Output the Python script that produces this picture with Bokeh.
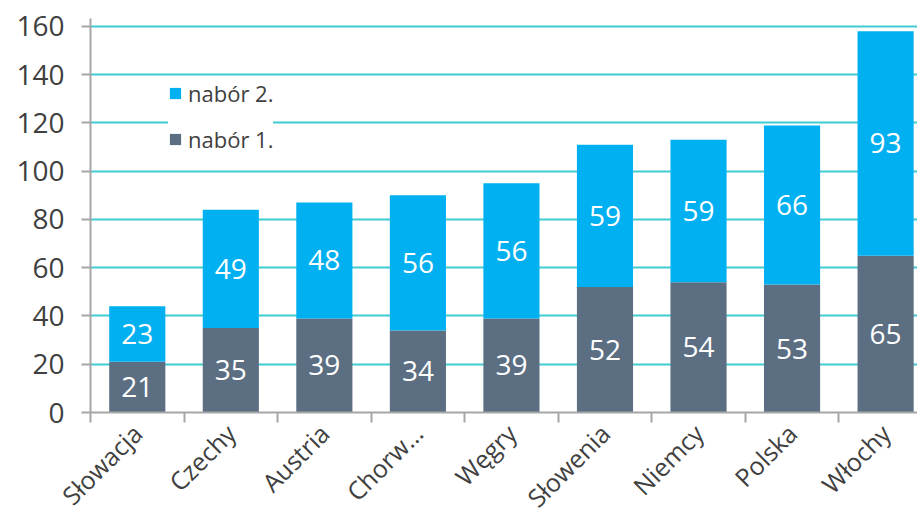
import numpy as np
from bokeh.plotting import figure
from bokeh.models import ColumnDataSource, Range1d, FixedTicker, Legend, LegendItem
from bokeh.embed import file_html
from bokeh.resources import INLINE
from bokeh.core.properties import value

categories = ["Słowacja", "Czechy", "Austria", "Chorw…", "Węgry",
              "Słowenia", "Niemcy", "Polska", "Włochy"]
nabor1 = [21, 35, 39, 34, 39, 52, 54, 53, 65]
nabor2 = [23, 49, 48, 56, 56, 59, 59, 66, 93]
y_ticks = [0, 20, 40, 60, 80, 100, 120, 140, 160]

FONT = "Open Sans"
TXT = "#404040"
AX = "#A6A6A6"

n1 = np.array(nabor1, dtype=float)
n2 = np.array(nabor2, dtype=float)
x = np.arange(len(categories)) + 0.5

src = ColumnDataSource(dict(
    x=x, n1=n1, top=n1 + n2,
    mid1=n1 / 2, mid2=n1 + n2 / 2,
    l1=[str(v) for v in nabor1], l2=[str(v) for v in nabor2],
))

p = figure(width=917, height=529,
           x_range=Range1d(0, 8.841), y_range=Range1d(0, 163.3),
           output_backend="svg", toolbar_location=None,
           min_border_left=90, min_border_right=0,
           min_border_top=18, min_border_bottom=116)
p.outline_line_color = None
p.background_fill_color = "white"
p.xgrid.grid_line_color = None
p.ygrid.grid_line_color = "#3FCCD2"
p.ygrid.grid_line_width = 2
p.ygrid.ticker = FixedTicker(ticks=y_ticks)

r1 = p.vbar(x="x", width=0.6, bottom=0, top="n1", source=src,
            fill_color="#5B6E82", line_color=None)
r2 = p.vbar(x="x", width=0.6, bottom="n1", top="top", source=src,
            fill_color="#00B0F0", line_color=None)

for ycol, tcol in (("mid1", "l1"), ("mid2", "l2")):
    p.text(x="x", y=ycol, text=tcol, source=src, text_align="center",
           text_baseline="middle", text_color="white",
           text_font=value(FONT), text_font_size="28px")

# y axis
ya = p.yaxis[0]
ya.ticker = FixedTicker(ticks=y_ticks)
ya.major_label_text_font = FONT
ya.major_label_text_font_size = "28px"
ya.major_label_text_color = TXT
ya.axis_line_color = AX
ya.axis_line_width = 2
ya.major_tick_line_color = AX
ya.major_tick_line_width = 2
ya.major_tick_out = 9
ya.major_tick_in = 0
ya.minor_tick_line_color = None
ya.major_label_standoff = 17

# x axis: labels at category centres, tick marks at category boundaries
xa = p.xaxis[0]
xa.ticker = FixedTicker(ticks=list(x), minor_ticks=list(range(len(categories))))
xa.major_label_overrides = {float(xi): c for xi, c in zip(x, categories)}
xa.major_label_orientation = np.pi / 4
xa.major_label_text_font = FONT
xa.major_label_text_font_size = "25px"
xa.major_label_text_color = TXT
xa.major_label_standoff = 6
xa.major_tick_line_color = None
xa.minor_tick_line_color = AX
xa.minor_tick_line_width = 2
xa.minor_tick_out = 10
xa.minor_tick_in = 0
xa.axis_line_color = AX
xa.axis_line_width = 2

legend = Legend(items=[LegendItem(label="nabór 2.", renderers=[r2]),
                       LegendItem(label="nabór 1.", renderers=[r1])],
                location=(78, 258), orientation="vertical",
                background_fill_color="white", background_fill_alpha=1,
                border_line_color=None, glyph_width=14, glyph_height=14,
                label_text_font=FONT, label_text_font_size="22px",
                label_text_color=TXT, padding=10, spacing=16,
                label_height=30, label_standoff=6, margin=0)
p.add_layout(legend)

open("out.html", "w").write(file_html(p, INLINE))
